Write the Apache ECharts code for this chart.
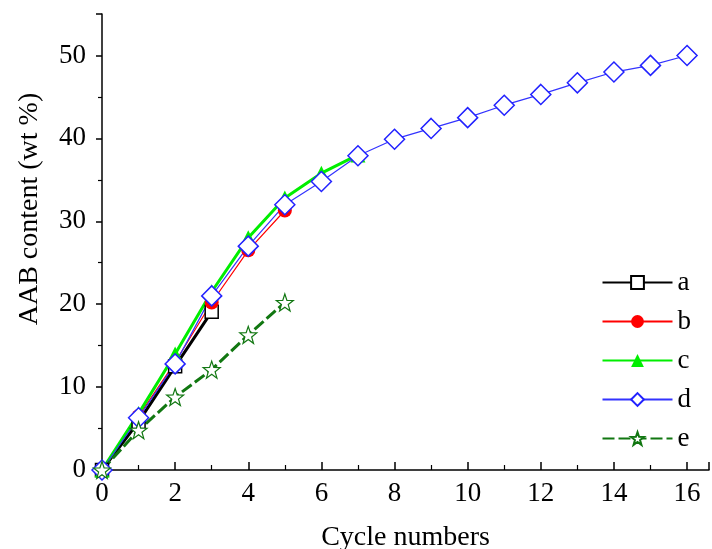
<!DOCTYPE html>
<html>
<head>
<meta charset="utf-8">
<script src="https://cdn.jsdelivr.net/npm/echarts@6/dist/echarts.min.js"></script>
<style>
  html, body { margin: 0; padding: 0; background: #fff; }
  #chart { width: 712px; height: 549px; }
</style>
</head>
<body>
<div id="chart"></div>
<script>
"use strict";

// cycle number → AAB content (wt %)
const cyclesA = [0, 1, 2, 3];
const valuesA = [0, 5.8, 12.5, 19.1];
const cyclesB = [0, 1, 2, 3, 4, 5];
const valuesB = [0, 6.5, 13.0, 20.2, 26.5, 31.3];
const cyclesC = [0, 1, 2, 3, 4, 5, 6, 7];
const valuesC = [0, 6.8, 14.0, 21.5, 28.0, 32.8, 35.8, 38.0];
const cyclesD = [0, 1, 2, 3, 4, 5, 6, 7, 8, 9, 10, 11, 12, 13, 14, 15, 16];
const valuesD = [0, 6.3, 12.8, 21.0, 27.0, 32.0, 34.8, 37.9, 39.9, 41.2, 42.5, 44.0, 45.3, 46.7, 48.0, 48.8, 50.0];
const cyclesE = [0, 1, 2, 3, 4, 5];
const valuesE = [0, 4.8, 8.8, 12.1, 16.3, 20.2];

const legendNames = ["a", "b", "c", "d", "e"];

const STAR = "path://M0,-10L2.35,-3.24L9.51,-3.09L3.8,1.24L5.88,8.09L0,4L-5.88,8.09L-3.8,1.24L-9.51,-3.09L-2.35,-3.24Z";
const FONT = "Liberation Serif";

function pairs(xs, ys) {
  return xs.map((x, i) => [x, ys[i]]);
}

const chart = echarts.init(document.getElementById("chart"), null, { renderer: "canvas" });
chart.setOption({
  animation: false,
  grid: { left: 102, right: 3, top: 14, bottom: 79, outerBoundsMode: "none", containLabel: false },
  legend: {
    data: legendNames,
    orient: "vertical",
    right: 16,
    top: 264,
    itemWidth: 70,
    itemHeight: 16,
    itemGap: 12,
    textStyle: { fontFamily: FONT, fontSize: 27, color: "#000", lineHeight: 26 },
  },
  xAxis: {
    type: "value", min: 0, max: 16.6, interval: 2,
    name: "Cycle numbers", nameLocation: "middle", nameGap: 54,
    nameTextStyle: { fontFamily: FONT, fontSize: 28, color: "#000" },
    axisLine: { lineStyle: { color: "#000", width: 1.5 } },
    axisTick: { inside: true, length: 8, lineStyle: { color: "#000", width: 1.5 } },
    minorTick: { show: true, splitNumber: 2, length: 5, lineStyle: { color: "#000", width: 1.2 } },
    axisLabel: {
      fontFamily: FONT, fontSize: 27, color: "#000", margin: 10,
      formatter: v => (Number.isInteger(v) && v % 2 === 0 ? String(v) : ""),
    },
    splitLine: { show: false },
  },
  yAxis: {
    type: "value", min: 0, max: 55, interval: 10,
    name: "AAB content (wt %)", nameLocation: "middle", nameGap: 58,
    nameTextStyle: { fontFamily: FONT, fontSize: 28, color: "#000", padding: [0, 0, 0, 66] },
    axisLine: { show: true, lineStyle: { color: "#000", width: 1.5 } },
    axisTick: { show: true, inside: false, length: 6, lineStyle: { color: "#000", width: 1.5 } },
    minorTick: { show: true, splitNumber: 2, length: 4, lineStyle: { color: "#000", width: 1.2 } },
    axisLabel: {
      fontFamily: FONT, fontSize: 27, color: "#000", margin: 16,
      formatter: v => (v % 10 === 0 ? String(v) : ""),
    },
    splitLine: { show: false },
  },
  series: [
    {
      name: "a", type: "line", data: pairs(cyclesA, valuesA),
      symbol: "rect", symbolSize: 13,
      lineStyle: { color: "#000", width: 3 },
      itemStyle: { color: "#fff", borderColor: "#000", borderWidth: 1.5 },
    },
    {
      name: "b", type: "line", data: pairs(cyclesB, valuesB),
      symbol: "circle", symbolSize: 14,
      lineStyle: { color: "#ff0000", width: 1.2 },
      itemStyle: { color: "#ff0000" },
    },
    {
      name: "c", type: "line", data: pairs(cyclesC, valuesC),
      symbol: "triangle", symbolSize: 15,
      lineStyle: { color: "#00ee00", width: 3 },
      itemStyle: { color: "#00ee00" },
    },
    {
      name: "d", type: "line", data: pairs(cyclesD, valuesD),
      symbol: "diamond", symbolSize: 20,
      lineStyle: { color: "#3333ff", width: 1.2 },
      itemStyle: { color: "#fff", borderColor: "#2222ff", borderWidth: 1.5 },
    },
    {
      name: "e", type: "line", data: pairs(cyclesE, valuesE),
      symbol: STAR, symbolSize: 17,
      lineStyle: { color: "#117711", width: 3, type: [12, 4] },
      itemStyle: { color: "#fff", borderColor: "#117711", borderWidth: 1.2 },
    },
  ],
});
</script>
</body>
</html>
